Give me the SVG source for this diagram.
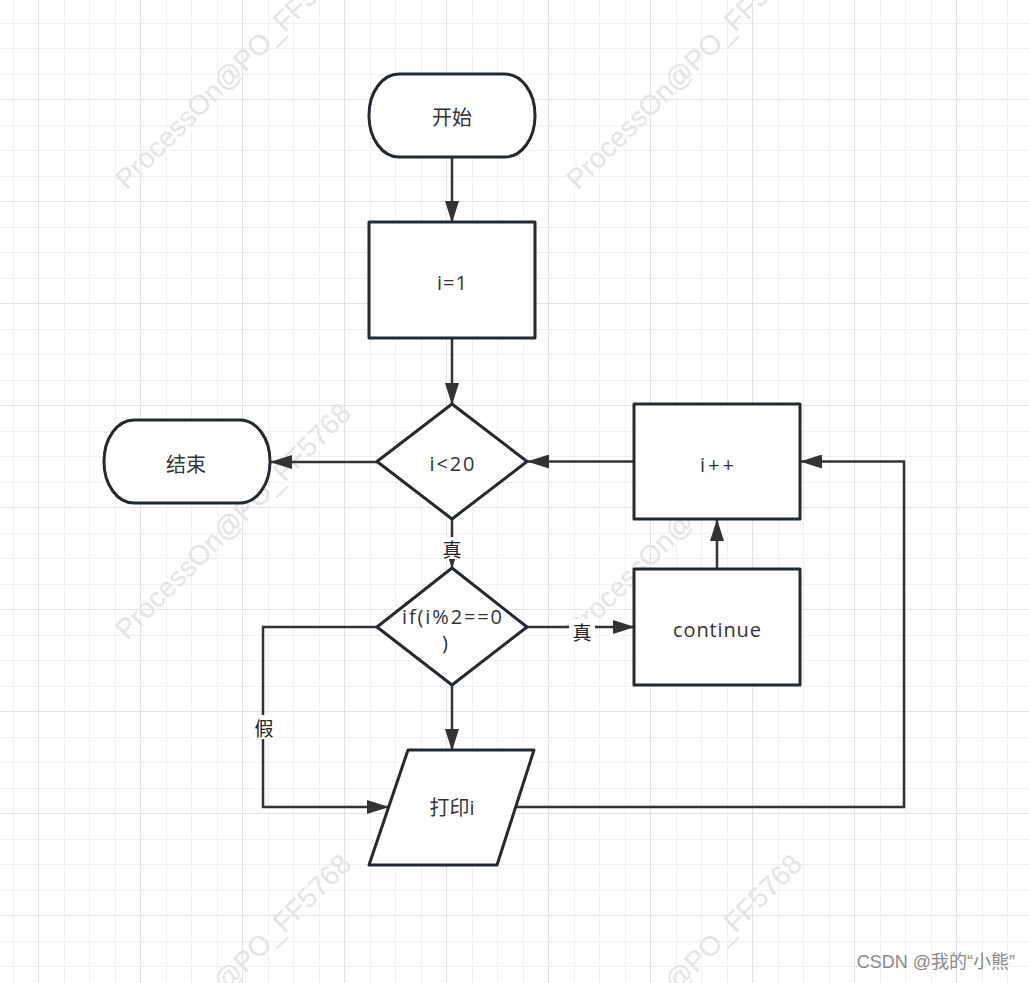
<svg xmlns="http://www.w3.org/2000/svg" width="1029" height="983" viewBox="0 0 1029 983">
  <defs>
    <pattern id="grid" patternUnits="userSpaceOnUse" x="12" y="22" width="102" height="102">
      <rect x="1" y="0" width="1" height="102" fill="#f0f0f0"/>
      <rect x="52" y="0" width="1" height="102" fill="#f0f0f0"/>
      <rect x="77" y="0" width="1" height="102" fill="#f0f0f0"/>
      <rect x="0" y="1" width="102" height="1" fill="#f0f0f0"/>
      <rect x="0" y="26" width="102" height="1" fill="#f0f0f0"/>
      <rect x="0" y="52" width="102" height="1" fill="#f0f0f0"/>
      <rect x="26" y="0" width="1" height="102" fill="#e3e3e3"/>
      <rect x="0" y="77" width="102" height="1" fill="#e3e3e3"/>
    </pattern>
    <marker id="arrow" markerUnits="userSpaceOnUse" markerWidth="22" markerHeight="14" viewBox="0 0 22 14" refX="21" refY="7" orient="auto">
      <path d="M0,0 L22,7 L0,14 z" fill="#333"/>
    </marker>
  </defs>
  <style>
    .node { fill: #ffffff; stroke: #232a31; stroke-width: 3; stroke-linejoin: round; }
    .label { font-family: "Open Sans", "Noto Sans CJK SC", sans-serif; font-size: 20px; fill: #333333; text-anchor: middle; dominant-baseline: central; }
    .conn { fill: none; stroke: #333333; stroke-width: 2.5; }
    .edge-label { font-family: "Noto Sans CJK SC", sans-serif; font-size: 19px; fill: #222222; text-anchor: middle; dominant-baseline: central; }
    .wm { font-family: "Liberation Sans", Arial, sans-serif; font-size: 28px; fill: #e4e4e4; text-anchor: middle; dominant-baseline: central; }
  </style>

  <rect width="1029" height="983" fill="#ffffff"/>
  <rect width="1029" height="983" fill="url(#grid)"/>

  <g id="watermarks">
    <text class="wm" transform="translate(233,71) rotate(-45)">ProcessOn@PO_FF5768</text>
    <text class="wm" transform="translate(684,71) rotate(-45)">ProcessOn@PO_FF5768</text>
    <text class="wm" transform="translate(233,521) rotate(-45)">ProcessOn@PO_FF5768</text>
    <text class="wm" transform="translate(684,521) rotate(-45)">ProcessOn@PO_FF5768</text>
    <text class="wm" transform="translate(233,972) rotate(-45)">ProcessOn@PO_FF5768</text>
    <text class="wm" transform="translate(684,972) rotate(-45)">ProcessOn@PO_FF5768</text>
  </g>

  <g id="connectors">
    <path class="conn" d="M452 158 V222" marker-end="url(#arrow)"/>
    <path class="conn" d="M452 338 V404" marker-end="url(#arrow)"/>
    <path class="conn" d="M377 462 H271" marker-end="url(#arrow)"/>
    <path class="conn" d="M634 461.5 H528" marker-end="url(#arrow)"/>
    <path class="conn" d="M452 519 V568" marker-end="url(#arrow)"/>
    <path class="conn" d="M527 627 H634" marker-end="url(#arrow)"/>
    <path class="conn" d="M717 569 V520" marker-end="url(#arrow)"/>
    <path class="conn" d="M452 685 V750" marker-end="url(#arrow)"/>
    <path class="conn" d="M377 627 H263 V807 H388" marker-end="url(#arrow)"/>
    <path class="conn" d="M516 807 H904 V461.5 H801" marker-end="url(#arrow)"/>
    <g id="edge-labels">
      <rect x="441" y="537" width="22" height="22" fill="#ffffff"/>
      <text class="edge-label" x="452" y="548">真</text>
      <rect x="569" y="619" width="26" height="24" fill="#ffffff"/>
      <text class="edge-label" x="582" y="631">真</text>
      <rect x="252" y="715" width="24" height="24" fill="#ffffff"/>
      <text class="edge-label" x="264" y="727">假</text>
    </g>
  </g>

  <g id="start">
    <rect class="node" x="369" y="74" width="166" height="83" rx="30" ry="41"/>
    <text class="label" x="452" y="117">开始</text>
  </g>
  <g id="init">
    <rect class="node" x="369" y="222" width="166" height="116"/>
    <text class="label" x="452" y="282" textLength="30" lengthAdjust="spacing">i=1</text>
  </g>
  <g id="cond">
    <polygon class="node" points="452,404 527,461.5 452,519 377,461.5"/>
    <text class="label" x="452" y="463" textLength="45" lengthAdjust="spacing">i&lt;20</text>
  </g>
  <g id="end">
    <rect class="node" x="104" y="420" width="166" height="83" rx="30" ry="41"/>
    <text class="label" x="186" y="464">结束</text>
  </g>
  <g id="incr">
    <rect class="node" x="634" y="404" width="166" height="115"/>
    <text class="label" x="717" y="464" textLength="34" lengthAdjust="spacing">i++</text>
  </g>
  <g id="mod">
    <polygon class="node" points="452,568 527,627 452,685 377,627"/>
    <text class="label" x="452" y="616" textLength="100" lengthAdjust="spacing">if(i%2==0</text>
    <text class="label" x="445" y="642">)</text>
  </g>
  <g id="cont">
    <rect class="node" x="634" y="569" width="166" height="116"/>
    <text class="label" x="717" y="629" textLength="88" lengthAdjust="spacing">continue</text>
  </g>
  <g id="print">
    <polygon class="node" points="408,750 534,750 497,865 369,865"/>
    <text class="label" x="452" y="807">打印i</text>
  </g>

  <text x="1015" y="962" font-family="'Liberation Sans', 'Noto Sans CJK SC', sans-serif" font-size="18" fill="#8a8a8a" text-anchor="end" dominant-baseline="central">CSDN @我的“小熊”</text>
</svg>
